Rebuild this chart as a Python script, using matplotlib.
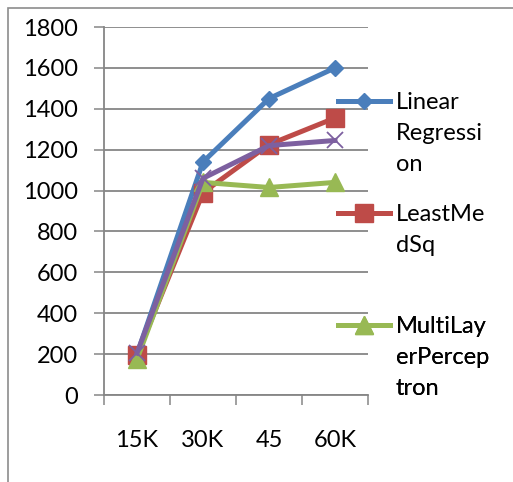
import matplotlib
matplotlib.use("Agg")
import matplotlib.pyplot as plt
from matplotlib.patches import Rectangle

categories = ["15K", "30K", "45", "60K"]
linear_regression = [200, 1140, 1450, 1600]
least_med_sq = [195, 990, 1225, 1355]
multilayer_perceptron = [175, 1040, 1015, 1040]
fourth_series = [205, 1060, 1220, 1245]

legend_labels = ["Linear\nRegressi\non", "LeastMe\ndSq", "MultiLay\nerPercep\ntron"]
legend_tops = [92, 204, 316]  # pixel y of each legend entry's top
yticks = list(range(0, 1801, 200))

plt.rcParams['font.family'] = ['Lato', 'DejaVu Sans']
FS = 17

fig = plt.figure(figsize=(5.13, 4.82), dpi=100)
ax = fig.add_axes([104/513, 87/482, 264/513, 368/482])

x = list(range(len(categories)))
l1, = ax.plot(x, linear_regression, color="#4A7EBB", lw=3.6, marker="D", ms=8, zorder=3)
l2, = ax.plot(x, least_med_sq, color="#BE4B48", lw=3.6, marker="s", ms=12.5, zorder=3)
l3, = ax.plot(x, multilayer_perceptron, color="#98B954", lw=3.6, marker="^", ms=13, zorder=3)
l4, = ax.plot(x, fourth_series, color="#7D60A0", lw=3.6, marker="x", ms=12, mew=1.3, zorder=3)

ax.set_xlim(-0.5, len(categories) - 0.5)
ax.set_ylim(0, 1800)
ax.set_yticks(yticks)
ax.set_xticks(x)
ax.set_xticklabels(categories, fontsize=FS)
ax.set_xticks([i - 0.5 for i in range(len(categories) + 1)], minor=True)
ax.tick_params(axis="x", which="major", length=0, pad=25)
ax.tick_params(axis="x", which="minor", length=7, width=1.1, color="#868686", direction="out")
ax.tick_params(axis="y", length=7, width=1.1, color="#868686", direction="out", pad=12, labelsize=FS)
ax.yaxis.grid(True, color="#868686", lw=1.3)
ax.set_axisbelow(True)
for s in ["top", "right"]:
    ax.spines[s].set_visible(False)
for s in ["left", "bottom"]:
    ax.spines[s].set_color("#868686")
    ax.spines[s].set_linewidth(1.3)

for handle, label, top in zip([l1, l2, l3], legend_labels, legend_tops):
    leg = ax.legend([handle], [label], loc="upper left",
                    bbox_to_anchor=(338/513, 1 - top/482), bbox_transform=fig.transFigure,
                    frameon=False, fontsize=FS, handlelength=2.2, handletextpad=0.25,
                    borderpad=0, borderaxespad=0, handleheight=1.0)
    for t in leg.get_texts():
        t.set_linespacing(1.6)
    for col in leg._legend_handle_box.get_children():
        for item in col.get_children():
            item.align = "top"
    ax.add_artist(leg)

fig.patches.append(Rectangle((8/513, -0.1), 1.2, 1.1 - 8/482, transform=fig.transFigure,
                             fill=False, edgecolor="#8C8C8C", lw=1.2, clip_on=False))

fig.savefig("out.png", dpi=100)
